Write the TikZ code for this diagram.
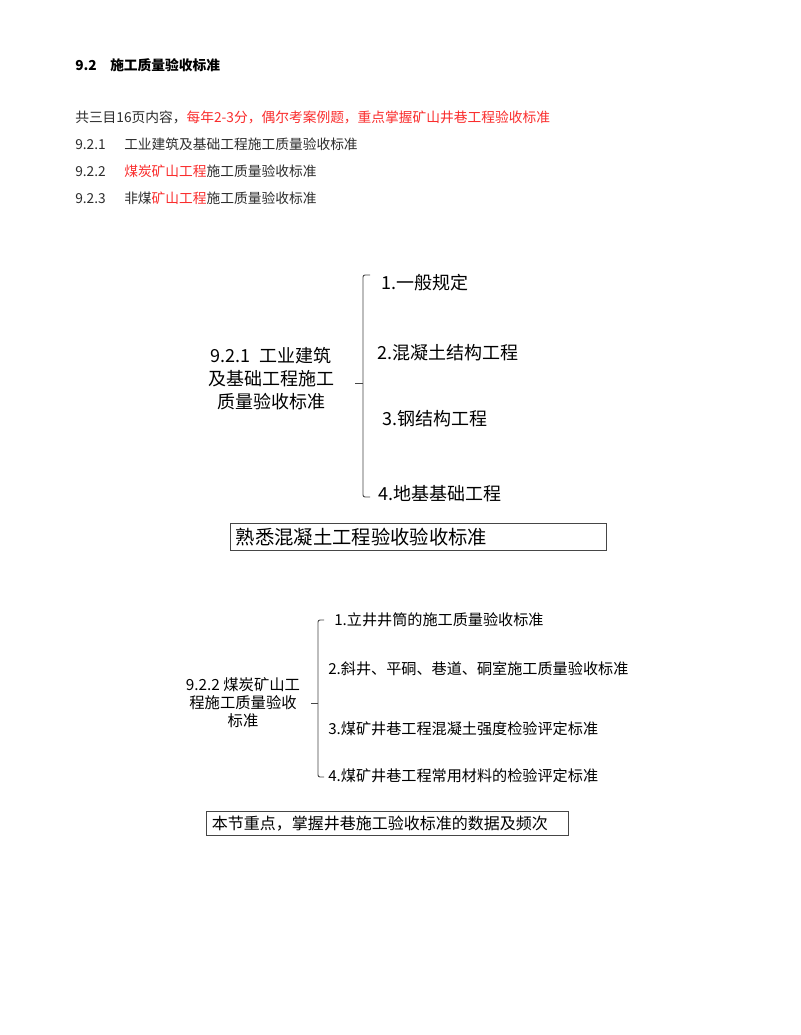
\documentclass[tikz,border=0pt]{standalone}
\usepackage{fontspec}
\setmainfont{Noto Sans CJK SC}
\usetikzlibrary{positioning}
\definecolor{keyred}{RGB}{250,45,45}
\definecolor{bodygray}{RGB}{45,45,45}
\definecolor{bracegray}{RGB}{70,70,70}
\tikzset{
  headline/.style={anchor=west, inner sep=0pt, text=bodygray, font=\fontsize{10.3}{12}\selectfont},
  title/.style={anchor=west, inner sep=0pt, text=black, font=\fontsize{10.3}{13}\bfseries\selectfont},
  rootA/.style={align=center, inner sep=0pt, font=\fontsize{13.5}{17.25}\selectfont},
  leafA/.style={anchor=west, inner sep=0pt, font=\fontsize{13.5}{16}\selectfont},
  rootB/.style={align=center, inner sep=0pt, font=\fontsize{11.5}{13.5}\selectfont},
  leafB/.style={anchor=west, inner sep=0pt, font=\fontsize{11.35}{14}\selectfont},
  notebox/.style={draw=bracegray, line width=0.75pt, anchor=north west, inner xsep=4pt, inner ysep=0pt, align=left},
  brace/.style={draw=bracegray, line width=0.7pt, rounded corners=1.5pt}
}
\newcommand{\numbox}[1]{\makebox[36.75pt][l]{#1}}
\begin{document}
\begin{tikzpicture}[x=0.75pt, y=-0.75pt]
\fill[white] (0,0) rectangle (800,1035);
\useasboundingbox (0,0) rectangle (800,1035);

% header text
\node[title] (sec) at (75,65) {\makebox[26.25pt][l]{9.2}施工质量验收标准};
\node[headline] (intro) at (75,117) {共三目16页内容，\textcolor{keyred}{每年2-3分，偶尔考案例题，重点掌握矿山井巷工程验收标准}};
\node[headline] (l921) at (75,144) {\numbox{9.2.1}工业建筑及基础工程施工质量验收标准};
\node[headline] (l922) at (75,171) {\numbox{9.2.2}\textcolor{keyred}{煤炭矿山工程}施工质量验收标准};
\node[headline] (l923) at (75,198) {\numbox{9.2.3}非煤\textcolor{keyred}{矿山工程}施工质量验收标准};

% first tree
\node[rootA] (rootA) at (271,379) {9.2.1\ \ 工业建筑\\及基础工程施工\\质量验收标准};
\node[leafA] (a1) at (381,283) {1.一般规定};
\node[leafA] (a2) at (377,353) {2.混凝土结构工程};
\node[leafA] (a3) at (382,419) {3.钢结构工程};
\node[leafA] (a4) at (378,494) {4.地基基础工程};
\coordinate (aTop) at (363,275);
\coordinate (aBot) at (363,497);
\coordinate (aMid) at (363,383);
\draw[brace] (aTop) ++(7,0) -- (aTop) -- (aBot) -- ++(7,0);
\draw[brace] (aMid) -- ++(-8,0);
\node[notebox, minimum width=282pt, minimum height=20.25pt, text width=274pt,
      font=\fontsize{14.5}{16}\selectfont] (noteA) at (230,523) {熟悉混凝土工程验收验收标准};

% second tree
\node[rootB] (rootB) at (243,703) {9.2.2 煤炭矿山工\\程施工质量验收\\标准};
\node[leafB] (b1) at (334,620) {1.立井井筒的施工质量验收标准};
\node[leafB] (b2) at (328,669) {2.斜井、平硐、巷道、硐室施工质量验收标准};
\node[leafB] (b3) at (328,729) {3.煤矿井巷工程混凝土强度检验评定标准};
\node[leafB] (b4) at (328,776) {4.煤矿井巷工程常用材料的检验评定标准};
\coordinate (bTop) at (318,620);
\coordinate (bBot) at (318,777);
\coordinate (bMid) at (318,703);
\draw[brace] (bTop) ++(6,0) -- (bTop) -- (bBot) -- ++(6,0);
\draw[brace] (bMid) -- ++(-7,0);
\node[notebox, minimum width=271.5pt, minimum height=18pt, text width=263.5pt,
      font=\fontsize{12}{14}\selectfont] (noteB) at (206,811) {本节重点，掌握井巷施工验收标准的数据及频次};
\end{tikzpicture}
\end{document}
